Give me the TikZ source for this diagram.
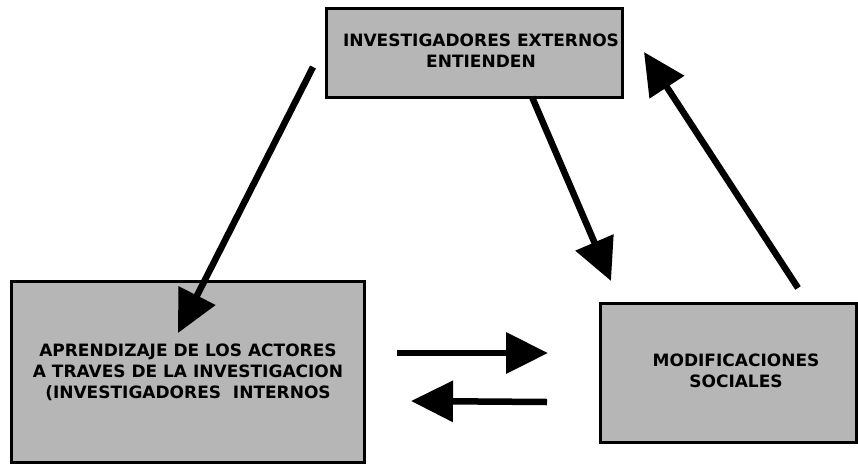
\documentclass[tikz,border=0pt]{standalone}
\usepackage{fontspec}
\setmainfont{DejaVu Sans}
\usetikzlibrary{arrows.meta}
\definecolor{boxgray}{RGB}{182,182,182}
\tikzset{
  box/.style={draw=black, line width=3pt, fill=boxgray, inner sep=0pt},
  boxtext/.style={align=center, inner sep=0pt, font=\bfseries\fontsize{17}{21}\selectfont},
  bigarrow/.style={line width=6.5pt, -{Triangle[length=42pt,width=40pt]}}
}
\begin{document}
\begin{tikzpicture}[x=1pt,y=-1pt]
\useasboundingbox (0,0) rectangle (858,466);
\node[box, minimum width=296pt, minimum height=89pt] (ext) at (474,53) {};
\node[boxtext] (extt) at (481,51) {INVESTIGADORES EXTERNOS\\ENTIENDEN};
\node[box, minimum width=353pt, minimum height=181pt] (apr) at (188,372) {};
\node[boxtext] (aprt) at (188,372) {APRENDIZAJE DE LOS ACTORES\\A TRAVES DE LA INVESTIGACION\\(INVESTIGADORES\ \ INTERNOS};
\node[box, minimum width=256pt, minimum height=139pt] (mod) at (728,373) {};
\node[boxtext] (modt) at (736,371) {MODIFICACIONES\\SOCIALES};
\coordinate (a1s) at (313,67);
\coordinate (a1e) at (178,333);
\coordinate (a2s) at (532,97);
\coordinate (a2e) at (611,281);
\coordinate (a3s) at (798,288);
\coordinate (a3e) at (644,52);
\coordinate (a4s) at (397,353);
\coordinate (a4e) at (548,353);
\coordinate (a5s) at (547,402);
\coordinate (a5e) at (411,401);
\draw[bigarrow] (a1s) -- (a1e);
\draw[bigarrow] (a2s) -- (a2e);
\draw[bigarrow] (a3s) -- (a3e);
\draw[bigarrow] (a4s) -- (a4e);
\draw[bigarrow] (a5s) -- (a5e);
\end{tikzpicture}
\end{document}
